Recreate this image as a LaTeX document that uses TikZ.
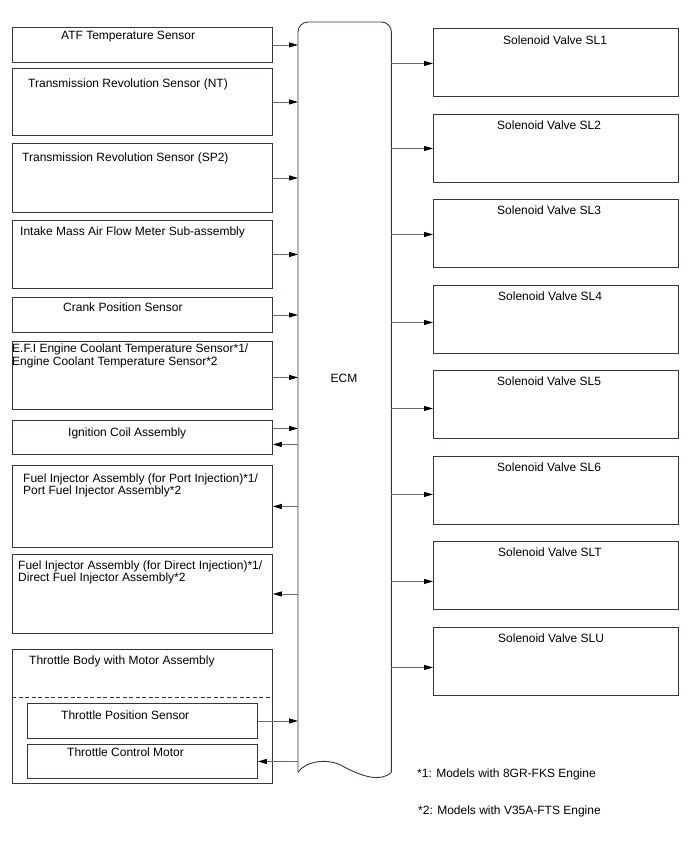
\documentclass[tikz,border=0pt]{standalone}
\usepackage{fontspec}
\setmainfont{Liberation Sans}
\usetikzlibrary{arrows.meta,positioning}
\definecolor{boxline}{RGB}{58,52,52}
\definecolor{wireline}{RGB}{105,105,105}

\begin{document}
\begin{tikzpicture}[
  x=1pt, y=-1pt,
  box/.style={draw=boxline,line width=0.9pt,anchor=north west,inner sep=0pt,minimum width=260pt},
  rbox/.style={box,minimum width=245pt,minimum height=68pt},
  ibox/.style={box,minimum width=230pt},
  txt/.style={anchor=base west,inner sep=0pt,align=left,font=\fontsize{12}{12}\selectfont},
  arr/.style={draw=wireline,line width=0.8pt,-{Triangle[length=9pt,width=5pt,color=black]}}
]
\useasboundingbox (0,0) rectangle (688,852);

% ECM
\node[anchor=north west,inner sep=0pt,minimum width=93pt,minimum height=750pt] (ecm) at (298,22) {};
\draw[boxline,line width=0.9pt,rounded corners=10pt] (ecm.south west) -- (ecm.north west) -- (ecm.north east) -- (ecm.south east);
\draw[boxline,line width=0.9pt] (ecm.south west) .. controls ([shift={(8,-12)}]ecm.south west) and ([shift={(32,-15)}]ecm.south west) .. ([shift={(47,-5)}]ecm.south west)
  .. controls ([shift={(-29,4)}]ecm.south east) and ([shift={(-11,10)}]ecm.south east) .. (ecm.south east);
\node[txt,anchor=base] (ecmlbl) at (344,382) {ECM};

% Inputs / outputs on the left
\node[box,minimum height=35pt] (atf) at (12,27) {};
\node[txt] (atft) at (61,39) {ATF Temperature Sensor};
\node[box,minimum height=67pt] (nt) at (12,68) {};
\node[txt] (ntt) at (28,87) {Transmission Revolution Sensor (NT)};
\node[box,minimum height=69pt] (sp) at (12,143) {};
\node[txt] (spt) at (22,161) {Transmission Revolution Sensor (SP2)};
\node[box,minimum height=68pt] (maf) at (12,220) {};
\node[txt] (maft) at (20,235) {Intake Mass Air Flow Meter Sub-assembly};
\node[box,minimum height=35pt] (crk) at (12,297) {};
\node[txt] (crkt) at (63,311) {Crank Position Sensor};
\node[box,minimum height=68pt] (ect) at (12,341) {};
\node[txt,font=\fontsize{12}{11}\selectfont] (ectt) at (12,365) {E.F.I Engine Coolant Temperature Sensor*1/\\Engine Coolant Temperature Sensor*2};
\node[box,minimum height=34pt] (ign) at (12,420) {};
\node[txt] (ignt) at (68,436) {Ignition Coil Assembly};
\node[box,minimum height=82pt] (port) at (12,465) {};
\node[txt] (portt) at (23,494) {Fuel Injector Assembly (for Port Injection)*1/\\Port Fuel Injector Assembly*2};
\node[box,minimum height=79pt] (dir) at (12,554) {};
\node[txt] (dirt) at (18,581) {Fuel Injector Assembly (for Direct Injection)*1/\\Direct Fuel Injector Assembly*2};

% Throttle body
\node[box,minimum height=134pt] (tb) at (12,649) {};
\node[txt] (tbt) at (29,664) {Throttle Body with Motor Assembly};
\draw[boxline,line width=0.9pt,dash pattern=on 4pt off 2.5pt] ([yshift=-48pt]tb.north west) -- ([yshift=-48pt]tb.north east);
\node[ibox,minimum height=35pt] (tps) at (27,703) {};
\node[txt] (tpst) at (61,719) {Throttle Position Sensor};
\node[ibox,minimum height=34pt] (tcm) at (27,744) {};
\node[txt] (tcmt) at (67,756) {Throttle Control Motor};

% Solenoid valves
\node[rbox] (sl1) at (433,28) {};
\node[txt] (sl1t) at (503,44) {Solenoid Valve SL1};
\node[rbox] (sl2) at (433,114) {};
\node[txt] (sl2t) at (497,129) {Solenoid Valve SL2};
\node[rbox] (sl3) at (433,199) {};
\node[txt] (sl3t) at (497,214) {Solenoid Valve SL3};
\node[rbox] (sl4) at (433,285) {};
\node[txt] (sl4t) at (498,300) {Solenoid Valve SL4};
\node[rbox] (sl5) at (433,370) {};
\node[txt] (sl5t) at (497,385) {Solenoid Valve SL5};
\node[rbox] (sl6) at (433,456) {};
\node[txt] (sl6t) at (497,471) {Solenoid Valve SL6};
\node[rbox] (slt) at (433,541) {};
\node[txt] (sltt) at (498,556) {Solenoid Valve SLT};
\node[rbox] (slu) at (433,627) {};
\node[txt] (slut) at (498,642) {Solenoid Valve SLU};

% Notes
\node[txt] (fn1) at (417,777) {*1: Models with 8GR-FKS Engine};
\node[txt] (fn2) at (418,814) {*2: Models with V35A-FTS Engine};

% Signals into the ECM
\draw[arr] (atf.east) -- (atf.east -| ecm.west);
\draw[arr] (nt.east) -- (nt.east -| ecm.west);
\draw[arr] (sp.east) -- (sp.east -| ecm.west);
\draw[arr] (maf.east) -- (maf.east -| ecm.west);
\draw[arr] (crk.east) -- (crk.east -| ecm.west);
\draw[arr] ([yshift=-2pt]ect.east) -- ([yshift=-2pt]ect.east -| ecm.west);
\draw[arr] ([yshift=9pt]ign.east) -- ([yshift=9pt]ign.east -| ecm.west);
\draw[arr] (tps.east) -- (tps.east -| ecm.west);
% Signals out of the ECM
\draw[arr] ([yshift=-7pt]ign.east -| ecm.west) -- ([yshift=-7pt]ign.east);
\draw[arr] (port.east -| ecm.west) -- (port.east);
\draw[arr] (dir.east -| ecm.west) -- (dir.east);
\draw[arr] (tcm.east -| ecm.west) -- (tcm.east);
\draw[arr] ([yshift=-1pt]sl1.west -| ecm.east) -- ([yshift=-1pt]sl1.west);
\draw[arr] (sl2.west -| ecm.east) -- (sl2.west);
\draw[arr] ([yshift=-1pt]sl3.west -| ecm.east) -- ([yshift=-1pt]sl3.west);
\draw[arr] ([yshift=-3pt]sl4.west -| ecm.east) -- ([yshift=-3pt]sl4.west);
\draw[arr] ([yshift=-4pt]sl5.west -| ecm.east) -- ([yshift=-4pt]sl5.west);
\draw[arr] ([yshift=-4pt]sl6.west -| ecm.east) -- ([yshift=-4pt]sl6.west);
\draw[arr] ([yshift=-6pt]slt.west -| ecm.east) -- ([yshift=-6pt]slt.west);
\draw[arr] ([yshift=-6pt]slu.west -| ecm.east) -- ([yshift=-6pt]slu.west);
\end{tikzpicture}
\end{document}
